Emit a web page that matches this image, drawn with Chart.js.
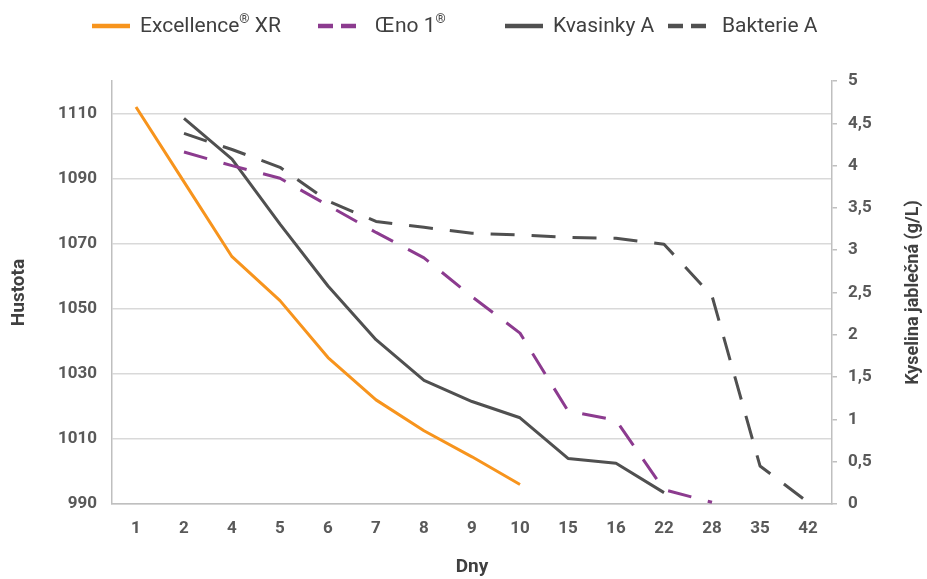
<!DOCTYPE html>
<html>
<head>
<meta charset="utf-8">
<title>Hustota a kyselina jablečná</title>
<script src="https://cdn.jsdelivr.net/npm/chart.js@4.4.1/dist/chart.umd.min.js"></script>
<style>
  html, body { margin: 0; padding: 0; background: #fff; }
</style>
</head>
<body>
<canvas id="chart" width="927" height="579"></canvas>
<script>
// days of fermentation (category axis)
const days = ["1", "2", "4", "5", "6", "7", "8", "9", "10", "15", "16", "22", "28", "35", "42"];

// density (left axis)
const excellence = [1112, 1089, 1066, 1052.5, 1035, 1022, 1012.5, 1004.5, 996, null, null, null, null, null, null];
const kvasinky = [null, 1108.5, 1096, 1076, 1057, 1040.5, 1028, 1021.5, 1016.5, 1004, 1002.5, 993.5, null, null, null];

// malic acid g/L (right axis)
const oeno = [null, 4.16, 4.0, 3.85, 3.53, 3.21, 2.91, 2.45, 2.02, 1.10, 0.99, 0.17, 0.02, null, null];
const bakterie = [null, 4.38, 4.19, 3.98, 3.58, 3.34, 3.27, 3.20, 3.18, 3.15, 3.14, 3.07, 2.46, 0.45, 0.02];

// tick labels
const densityTicks = [990, 1010, 1030, 1050, 1070, 1090, 1110];
const acidTicks = [0, 0.5, 1, 1.5, 2, 2.5, 3, 3.5, 4, 4.5, 5];

const seriesNames = ["Excellence® XR", "Œno 1®", "Kvasinky A", "Bakterie A"];

const tickFont = { family: "Roboto", size: 17, weight: "bold" };
const titleFont = { family: "Roboto", size: 19, weight: "bold" };
const tickColor = "#595959";
const axisColor = "#bfbfbf";
const gridColor = "#d9d9d9";
const dash = [24, 17];

// legend layout: swatch start and text start for each item
const legendSwatchX = [92, 318, 505, 668];
const legendTextX = [140, 375, 553, 722];

const legendPlugin = {
    id: "topLegend",
    afterDraw(chart) {
        const ctx = chart.ctx;
        chart.data.datasets.forEach((ds, i) => {
            const x = legendSwatchX[i];
            ctx.save();
            ctx.strokeStyle = ds.borderColor;
            ctx.lineWidth = 4.5;
            ctx.setLineDash(ds.borderDash && ds.borderDash.length ? [15, 8] : []);
            ctx.beginPath();
            ctx.moveTo(x, 26);
            ctx.lineTo(x + 38, 26);
            ctx.stroke();
            ctx.restore();

            // text, with ® as superscript
            ctx.save();
            ctx.fillStyle = "#404040";
            ctx.textBaseline = "alphabetic";
            let tx = legendTextX[i];
            ds.label.split(/(®)/).forEach(part => {
                if (!part) return;
                if (part === "®") {
                    ctx.font = "13px Roboto";
                    ctx.fillText(part, tx, 23);
                } else {
                    ctx.font = "21px Roboto";
                    ctx.fillText(part, tx, 32);
                }
                tx += ctx.measureText(part).width;
            });
            ctx.restore();
        });
    }
};

// right axis title reads bottom to top
const rightTitlePlugin = {
    id: "rightTitle",
    afterDraw(chart) {
        const ctx = chart.ctx;
        const area = chart.chartArea;
        ctx.save();
        ctx.translate(913, (area.top + area.bottom) / 2);
        ctx.rotate(-Math.PI / 2);
        ctx.textAlign = "center";
        ctx.textBaseline = "middle";
        ctx.font = "bold 18px Roboto";
        ctx.fillStyle = "#404040";
        ctx.fillText("Kyselina jablečná (g/L)", 0, 0);
        ctx.restore();
    }
};

new Chart(document.getElementById("chart"), {
    type: "line",
    data: {
        labels: days,
        datasets: [
            { label: seriesNames[0], data: excellence, yAxisID: "y", borderColor: "#f7941d", borderDash: [] },
            { label: seriesNames[1], data: oeno, yAxisID: "y2", borderColor: "#8c3b8f", borderDash: dash },
            { label: seriesNames[2], data: kvasinky, yAxisID: "y", borderColor: "#505050", borderDash: [] },
            { label: seriesNames[3], data: bakterie, yAxisID: "y2", borderColor: "#505050", borderDash: dash }
        ]
    },
    options: {
        responsive: false,
        animation: false,
        layout: { padding: { top: 81, left: 0, right: 0, bottom: 0 } },
        elements: {
            line: { borderWidth: 3, tension: 0, fill: false, borderJoinStyle: "round" },
            point: { radius: 0, hoverRadius: 0 }
        },
        plugins: {
            legend: { display: false },
            tooltip: { enabled: false }
        },
        scales: {
            x: {
                type: "category",
                offset: true,
                grid: { display: false, drawTicks: false },
                border: { color: axisColor, width: 1.5 },
                ticks: { font: tickFont, color: tickColor, padding: 15, autoSkip: false, maxRotation: 0 },
                title: { display: true, text: "Dny", font: titleFont, color: "#404040", padding: { top: 4, bottom: 0 } },
                afterFit(scale) { scale.height = 75; }
            },
            y: {
                position: "left",
                min: 990,
                max: 1120,
                grid: { color: gridColor, lineWidth: 1.5, drawTicks: false },
                border: { color: axisColor, width: 1.5 },
                ticks: { font: tickFont, color: tickColor, padding: 15, callback: v => String(v) },
                title: { display: true, text: "Hustota", font: titleFont, color: "#404040", padding: { top: 8, bottom: 0 } },
                afterBuildTicks(scale) { scale.ticks = densityTicks.map(v => ({ value: v })); },
                afterFit(scale) { scale.width = 112; }
            },
            y2: {
                position: "right",
                min: 0,
                max: 5,
                grid: { drawOnChartArea: false, drawTicks: true, tickLength: 5, color: axisColor, lineWidth: 1.5 },
                border: { color: axisColor, width: 1.5 },
                ticks: {
                    font: tickFont,
                    color: tickColor,
                    padding: 11,
                    callback: v => String(v).replace(".", ",")
                },
                afterBuildTicks(scale) { scale.ticks = acidTicks.map(v => ({ value: v })); },
                afterFit(scale) { scale.width = 95; }
            }
        }
    },
    plugins: [legendPlugin, rightTitlePlugin]
});
</script>
</body>
</html>
